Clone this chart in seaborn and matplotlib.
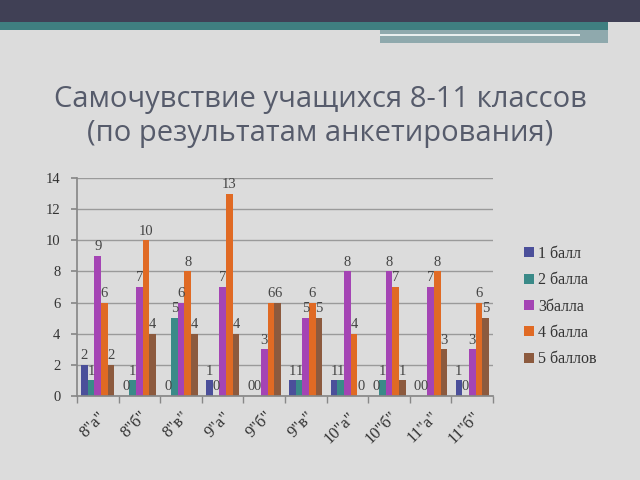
import matplotlib
matplotlib.use("Agg")
import matplotlib.pyplot as plt
import seaborn as sns
import pandas as pd
from matplotlib.patches import Rectangle

classes = ['8"а"', '8"б"', '8"в"', '9"а"', '9"б"', '9"в"', '10"а"', '10"б"', '11"а"', '11"б"']
series_names = ["1 балл", "2 балла", "3балла", "4 балла", "5 баллов"]
ball1 = [2, 0, 0, 1, 0, 1, 1, 0, 0, 1]
ball2 = [1, 1, 5, 0, 0, 1, 1, 1, 0, 0]
ball3 = [9, 7, 6, 7, 3, 5, 8, 8, 7, 3]
ball4 = [6, 10, 8, 13, 6, 6, 4, 7, 8, 6]
ball5 = [2, 4, 4, 4, 6, 5, 0, 1, 3, 5]
colors = ["#4B4F9A", "#3A8A88", "#A444B4", "#E06A24", "#8C5A3E"]

series = [ball1, ball2, ball3, ball4, ball5]
rows = []
for name, vals in zip(series_names, series):
    for c, v in zip(classes, vals):
        rows.append({"class": c, "series": name, "value": v})
df = pd.DataFrame(rows)

sns.set_theme(style="white")
plt.rcParams["font.family"] = ["DejaVu Sans"]

bg = "#DCDCDC"
fig = plt.figure(figsize=(6.4, 4.8), dpi=100, facecolor=bg)

# slide decoration
fig.patches.append(Rectangle((0, 1 - 22 / 480), 1, 22 / 480, transform=fig.transFigure,
                             facecolor="#404055", edgecolor="none", zorder=0))
fig.patches.append(Rectangle((0, 1 - 30 / 480), 0.95, 8 / 480, transform=fig.transFigure,
                             facecolor="#3F7F80", edgecolor="none", zorder=0))
fig.patches.append(Rectangle((380 / 640, 1 - 43 / 480), 0.95 - 380 / 640, 13 / 480, transform=fig.transFigure,
                             facecolor="#8FA9AD", edgecolor="none", zorder=0))
fig.patches.append(Rectangle((380 / 640, 1 - 36 / 480), 200 / 640, 2 / 480, transform=fig.transFigure,
                             facecolor="#E8EEEE", edgecolor="none", zorder=1))

title_color = "#565B6B"
fig.text(0.5, 1 - 100 / 480, "Самочувствие учащихся 8-11 классов", ha="center", va="center",
         fontsize=21, color=title_color, family=["Open Sans", "DejaVu Sans"])
fig.text(0.5, 1 - 134 / 480, "(по результатам анкетирования)", ha="center", va="center",
         fontsize=21, color=title_color, family=["Open Sans", "DejaVu Sans"])

ax = fig.add_axes([77 / 640, 84 / 480, 416 / 640, 218 / 480])
ax.set_facecolor(bg)

sns.barplot(data=df, x="class", y="value", hue="series", palette=colors, ax=ax,
            width=0.8, saturation=1, edgecolor="none", legend=True)

serif = ["Liberation Serif", "DejaVu Serif"]
for cont in ax.containers:
    ax.bar_label(cont, fmt="%g", padding=2, fontsize=10.5, color="#444444", family=serif)

ax.set_ylim(0, 14)
ax.set_yticks(range(0, 15, 2))
ax.yaxis.grid(True, color="#9A9A9A", linewidth=1)
ax.set_axisbelow(True)
ax.set_xlabel("")
ax.set_ylabel("")
for s in ["top", "right"]:
    ax.spines[s].set_visible(False)
ax.spines["left"].set_color("#888888")
ax.spines["bottom"].set_color("#888888")
ax.tick_params(axis="y", labelsize=10.5, colors="#333333", length=4, left=True, color="#888888", pad=8)
ax.tick_params(axis="x", labelsize=12, colors="#333333", length=0, pad=9)
for lab in ax.get_yticklabels():
    lab.set_family(serif)
for lab in ax.get_xticklabels():
    lab.set_family(serif)
    lab.set_rotation(45)
    lab.set_ha("right")
    lab.set_rotation_mode("anchor")

# category boundary ticks
ax.set_xticks([i - 0.5 for i in range(11)], minor=True)
ax.tick_params(axis="x", which="minor", length=5, color="#888888", bottom=True)
ax.set_xlim(-0.5, 9.5)

leg = ax.legend(loc="center left", bbox_to_anchor=(1.04, 0.41), frameon=False,
                handlelength=0.6, handleheight=0.6, handletextpad=0.3, labelspacing=0.65,
                prop={"family": serif, "size": 11.5})
for t in leg.get_texts():
    t.set_color("#333333")

fig.savefig("out.png", dpi=100, facecolor=bg)
